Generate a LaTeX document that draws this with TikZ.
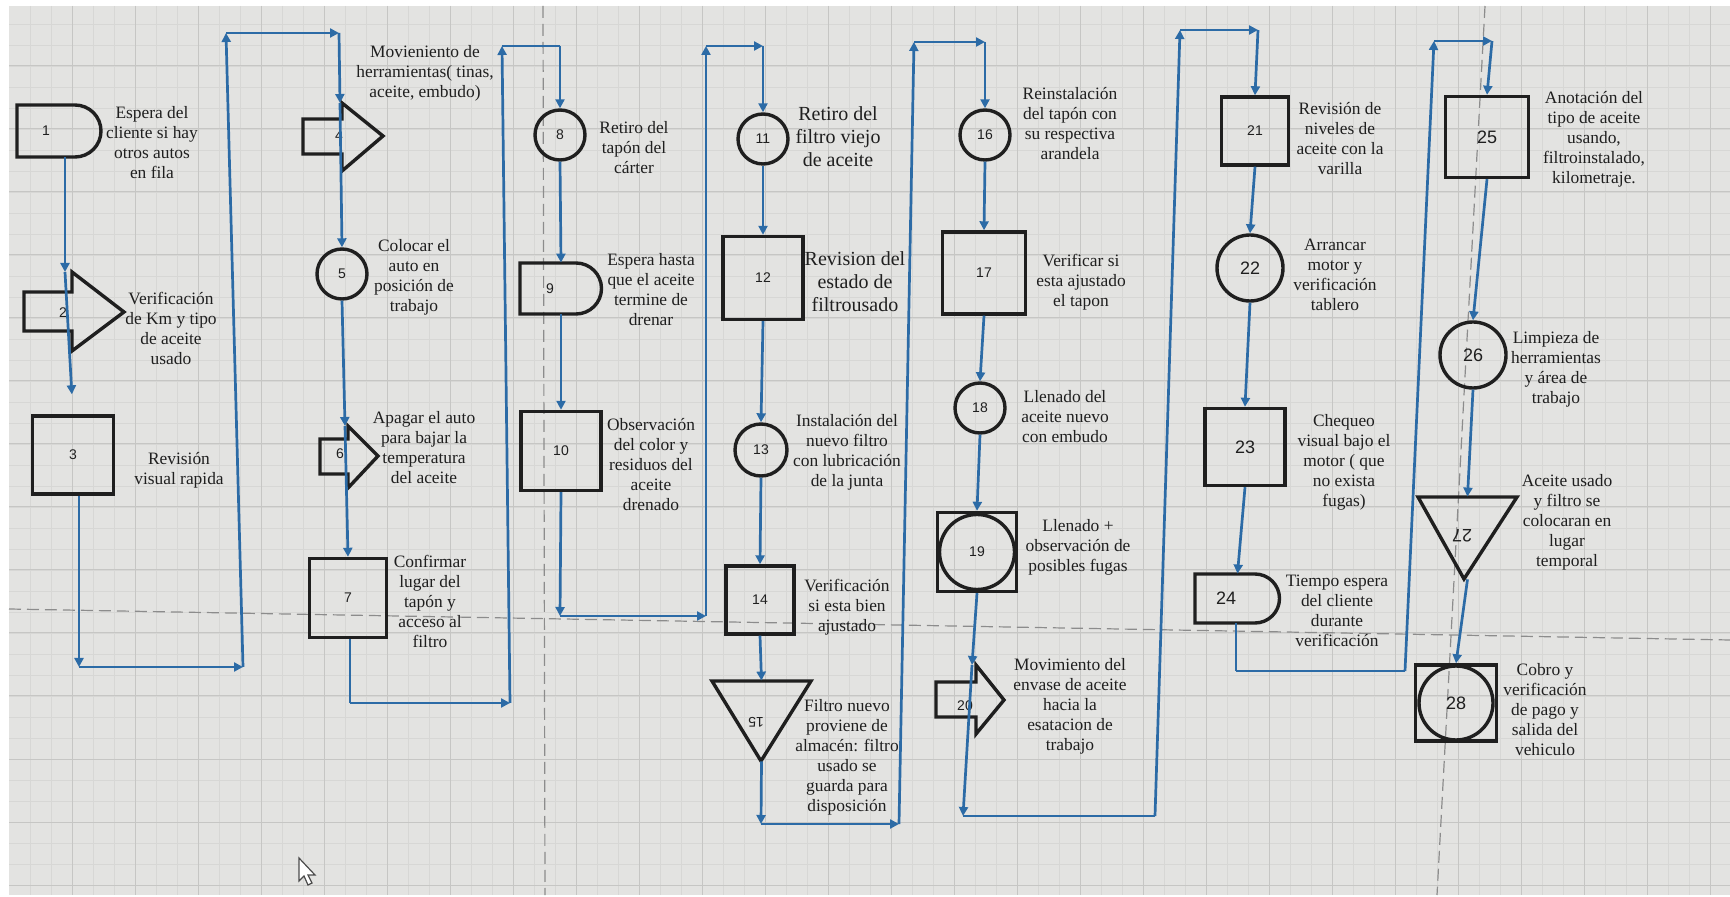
\documentclass[tikz,border=0pt]{standalone}
\usepackage{fontspec}
\setmainfont{Liberation Serif}
\newfontfamily\numfont{Liberation Sans}
\usetikzlibrary{arrows.meta,calc}
\definecolor{ink}{HTML}{1F1F1F}
\definecolor{flowc}{HTML}{2C6BA6}
\definecolor{bgc}{HTML}{E3E3E1}
\definecolor{gmin}{HTML}{D7D7D5}
\definecolor{gmaj}{HTML}{C6C6C4}
\definecolor{dashc}{HTML}{8C8C8C}
\begin{document}
\begin{tikzpicture}[x=0.5pt,y=-0.5pt,
  shp/.style={draw=ink,line width=1.7pt},
  num/.style={font=\numfont\fontsize{7}{8}\selectfont,text=ink,inner sep=0pt},
  bignum/.style={font=\numfont\fontsize{9}{10}\selectfont,text=ink,inner sep=0pt},
  box/.style={shp,rectangle,inner sep=0pt,num},
  bigbox/.style={shp,rectangle,inner sep=0pt,bignum},
  circ/.style={shp,circle,inner sep=0pt,num},
  bigcirc/.style={shp,circle,inner sep=0pt,bignum},
  hid/.style={rectangle,inner sep=0pt},
  lbl/.style={align=center,font=\fontsize{8.7}{10}\selectfont,text=ink,inner sep=0pt},
  biglbl/.style={align=center,font=\fontsize{10}{11.5}\selectfont,text=ink,inner sep=0pt},
  flow/.style={draw=flowc,line width=1.35pt,-{Triangle[length=4.5pt,width=4.5pt]}},
  seg/.style={draw=flowc,line width=1.35pt}]
\useasboundingbox (0,0) rectangle (1730,897);
% background and grid
\fill[white] (0,0) rectangle (1730,897);
\fill[bgc] (9,6) rectangle (1730,895);
\foreach \x in {30,51,...,1730} \draw[gmin,line width=0.35pt] (\x,6) -- (\x,895);
\foreach \y in {24,45,...,895} \draw[gmin,line width=0.35pt] (9,\y) -- (1730,\y);
\foreach \x in {72,135,...,1730} \draw[gmaj,line width=0.5pt] (\x,6) -- (\x,895);
\foreach \y in {66,129,...,895} \draw[gmaj,line width=0.5pt] (9,\y) -- (1730,\y);
\draw[dashc,line width=0.6pt,dash pattern=on 6pt off 3pt] (543,6) -- (545,895);
\draw[dashc,line width=0.6pt,dash pattern=on 6pt off 3pt] (1485,6) -- (1437,895);
\draw[dashc,line width=0.6pt,dash pattern=on 6pt off 3pt] (9,609) -- (1730,640);

% ---------- column A ----------
\draw[shp] (17,105) -- (75,105) arc[start angle=-90,end angle=90,radius=26] -- (17,157) -- cycle;
\node[hid,minimum width=42pt,minimum height=26pt] (n1) at (59,131) {};
\node[num] at (46,131) {1};
\draw[shp] (24,292) -- (72,292) -- (72,272) -- (124,312) -- (72,351) -- (72,331) -- (24,331) -- cycle;
\coordinate (n2t) at (65,272);
\node[num] (n2) at (63,313) {2};
\node[box,minimum width=40.5pt,minimum height=39pt] (n3) at (73,455) {3};

% ---------- column B ----------
\draw[shp] (303,119) -- (342,119) -- (342,103) -- (383,136) -- (342,171) -- (342,154) -- (303,154) -- cycle;
\coordinate (n4t) at (340,103);
\node[num] (n4) at (339,136) {4};
\node[circ,minimum size=25pt] (n5) at (342,274) {5};
\draw[shp] (320,439) -- (348,439) -- (348,426) -- (378,456) -- (348,488) -- (348,474) -- (320,474) -- cycle;
\coordinate (n6t) at (345,426);
\node[num] (n6) at (340,454) {6};
\node[box,minimum width=38.5pt,minimum height=39.5pt] (n7) at (348,598) {7};

% ---------- column C ----------
\node[circ,minimum size=25pt] (n8) at (560,135) {8};
\draw[shp] (520,263) -- (576,263) arc[start angle=-90,end angle=90,radius=25.5] -- (520,314) -- cycle;
\node[hid,minimum width=41pt,minimum height=25.5pt] (n9) at (561,288.5) {};
\node[num] at (550,289) {9};
\node[box,minimum width=40pt,minimum height=39.5pt] (n10) at (561,451) {10};

% ---------- column D ----------
\node[circ,minimum size=25pt] (n11) at (763,139) {11};
\node[box,minimum width=40pt,minimum height=41.5pt] (n12) at (763,278) {12};
\node[circ,minimum size=26pt] (n13) at (761,450) {13};
\node[box,minimum width=34pt,minimum height=34pt] (n14) at (760,600) {14};
\draw[shp] (712,681) -- (811,681) -- (761,761) -- cycle;
\node[hid,minimum width=49.5pt,minimum height=40pt] (n15) at (761.5,721) {};
\node[num,rotate=180] at (756,722) {15};

% ---------- column E ----------
\node[circ,minimum size=25pt] (n16) at (985,135) {16};
\node[box,minimum width=41.5pt,minimum height=41pt] (n17) at (984,273) {17};
\node[circ,minimum size=25pt] (n18) at (980,408) {18};
\node[box,minimum width=39.5pt,minimum height=39.5pt] (n19) at (977,552) {19};
\draw[shp] (977,552) circle[radius=37.5];
\draw[shp] (936,682) -- (976,682) -- (976,665) -- (1004,700) -- (976,734) -- (976,717) -- (936,717) -- cycle;
\coordinate (n20t) at (972,665);
\node[num] (n20) at (965,706) {20};

% ---------- column F ----------
\node[box,minimum width=33.5pt,minimum height=34pt] (n21) at (1255,131) {21};
\node[bigcirc,minimum size=33pt] (n22) at (1250,268) {22};
\node[bigbox,minimum width=40pt,minimum height=38.5pt] (n23) at (1245,447) {23};
\draw[shp] (1195,574) -- (1255,574) arc[start angle=-90,end angle=90,radius=24.5] -- (1195,623) -- cycle;
\node[hid,minimum width=42.5pt,minimum height=24.5pt] (n24) at (1237.5,598.5) {};
\node[bignum] at (1226,598) {24};

% ---------- column G ----------
\node[bigbox,minimum width=41.5pt,minimum height=40.5pt] (n25) at (1487,137) {25};
\node[bigcirc,minimum size=33pt] (n26) at (1473,355) {26};
\draw[shp] (1418,497) -- (1517,497) -- (1464,579) -- cycle;
\node[hid,minimum width=49.5pt,minimum height=41pt] (n27) at (1467.5,538) {};
\node[bignum,rotate=180] at (1462,536) {27};
\node[bigbox,minimum width=40.5pt,minimum height=38pt] (n28) at (1456,703) {28};
\draw[shp] (1456,703) circle[radius=37];

% ---------- labels ----------
\node[lbl] (l1) at (152,143) {Espera del\\cliente si hay\\otros autos\\en fila};
\node[lbl] (l2) at (171,328) {Verificación\\de Km y tipo\\de aceite\\usado};
\node[lbl] (l3) at (179,470) {Revisión\\visual rapida};
\node[lbl] (l4) at (425,73) {Movieniento de\\herramientas( tinas,\\aceite, embudo)};
\node[lbl] (l5) at (414,277) {Colocar el\\auto en\\posición de\\trabajo};
\node[lbl] (l6) at (424,448) {Apagar el auto\\para bajar la\\temperatura\\del aceite};
\node[lbl] (l7) at (430,601) {Confirmar\\lugar del\\tapón y\\acceso al\\filtro};
\node[lbl] (l8) at (634,148) {Retiro del\\tapón del\\cárter};
\node[lbl] (l9) at (651,290) {Espera hasta\\que el aceite\\termine de\\drenar};
\node[lbl] (l10) at (651,465) {Observación\\del color y\\residuos del\\aceite\\drenado};
\node[biglbl] (l11) at (838,137) {Retiro del\\filtro viejo\\de aceite};
\node[biglbl] (l12) at (855,282) {Revision del\\estado de\\filtrousado};
\node[lbl] (l13) at (847,452) {Instalación del\\nuevo filtro\\con lubricación\\de la junta};
\node[lbl] (l14) at (847,607) {Verificación\\si esta bien\\ajustado};
\node[lbl] (l15) at (847,757) {Filtro nuevo\\proviene de\\almacén: filtro\\usado se\\guarda para\\disposición};
\node[lbl] (l16) at (1070,124) {Reinstalación\\del tapón con\\su respectiva\\arandela};
\node[lbl] (l17) at (1081,282) {Verificar si\\esta ajustado\\el tapon};
\node[lbl] (l18) at (1065,417) {Llenado del\\aceite nuevo\\con embudo};
\node[lbl] (l19) at (1078,547) {Llenado +\\observación de\\posibles fugas};
\node[lbl] (l20) at (1070,706) {Movimiento del\\envase de aceite\\hacia la\\esatacion de\\trabajo};
\node[lbl] (l21) at (1340,139) {Revisión de\\niveles de\\aceite con la\\varilla};
\node[lbl] (l22) at (1335,275) {Arrancar\\motor y\\verificación\\tablero};
\node[lbl] (l23) at (1344,462) {Chequeo\\visual bajo el\\motor ( que\\no exista\\fugas)};
\node[lbl] (l24) at (1337,611) {Tiempo espera\\del cliente\\durante\\verificación};
\node[lbl] (l25) at (1594,139) {Anotación del\\tipo de aceite\\usando,\\filtroinstalado,\\kilometraje.};
\node[lbl] (l26) at (1556,369) {Limpieza de\\herramientas\\y área de\\trabajo};
\node[lbl] (l27) at (1567,522) {Aceite usado\\y filtro se\\colocaran en\\lugar\\temporal};
\node[lbl] (l28) at (1545,710) {Cobro y\\verificación\\de pago y\\salida del\\vehiculo};

% ---------- loop corner coordinates ----------
\coordinate (a1) at (79,667);  \coordinate (a2) at (243,667);
\coordinate (a3) at (226,33);  \coordinate (a4) at (339,33);
\coordinate (b1) at (350,703); \coordinate (b2) at (510,703);
\coordinate (b3) at (502,46);  \coordinate (b4) at (560,46);
\coordinate (c1) at (560,616); \coordinate (c2) at (706,616);
\coordinate (c3) at (706,46);  \coordinate (c4) at (763,46);
\coordinate (d1) at (761,824); \coordinate (d2) at (899,824);
\coordinate (d3) at (914,42);  \coordinate (d4) at (985,42);
\coordinate (e1) at (963,816); \coordinate (e2) at (1155,816);
\coordinate (e3) at (1180,30); \coordinate (e4) at (1258,30);
\coordinate (f1) at (1236,671); \coordinate (f2) at (1405,671);
\coordinate (f3) at (1434,41); \coordinate (f4) at (1492,41);

% ---------- connectors ----------
\draw[flow] (n1.south -| n2t) -- (n2t);
\draw[flow,shorten >=10pt] (n2t) -- (n3.north);
\draw[flow] (n3.south -| a1) -- (a1);
\draw[flow] (a1) -- (a2);
\draw[flow] (a2) -- (a3);
\draw[flow] (a3) -- (a4);
\draw[flow] (a4) -- (n4t);
\draw[flow] (n4t) -- (n5.north);
\draw[flow] (n5.south) -- (n6t);
\draw[flow] (n6t) -- (n7.north);
\draw[seg] (n7.south -| b1) -- (b1);
\draw[flow] (b1) -- (b2);
\draw[flow] (b2) -- (b3);
\draw[seg] (b3) -- (b4);
\draw[flow] (b4) -- (n8.north);
\draw[flow] (n8.south) -- (n9.north);
\draw[flow] (n9.south) -- (n10.north);
\draw[flow] (n10.south) -- (c1);
\draw[flow] (c1) -- (c2);
\draw[flow] (c2) -- (c3);
\draw[flow] (c3) -- (c4);
\draw[flow] (c4) -- (n11.north);
\draw[flow] (n11.south) -- (n12.north);
\draw[flow] (n12.south) -- (n13.north);
\draw[flow] (n13.south) -- (n14.north);
\draw[flow] (n14.south) -- (n15.north);
\draw[flow] (n15.south) -- (d1);
\draw[flow] (d1) -- (d2);
\draw[flow] (d2) -- (d3);
\draw[flow] (d3) -- (d4);
\draw[flow] (d4) -- (n16.north);
\draw[flow] (n16.south) -- (n17.north);
\draw[flow] (n17.south) -- (n18.north);
\draw[flow] (n18.south) -- (n19.north);
\draw[flow] (n19.south) -- (n20t);
\draw[flow] (n20t) -- (e1);
\draw[seg] (e1) -- (e2);
\draw[flow] (e2) -- (e3);
\draw[flow] (e3) -- (e4);
\draw[flow] (e4) -- (n21.north);
\draw[flow] (n21.south) -- (n22.north);
\draw[flow] (n22.south) -- (n23.north);
\draw[flow] (n23.south) -- (n24.north);
\draw[seg] (n24.south -| f1) -- (f1);
\draw[seg] (f1) -- (f2);
\draw[flow] (f2) -- (f3);
\draw[flow] (f3) -- (f4);
\draw[flow] (f4) -- (n25.north);
\draw[flow] (n25.south) -- (n26.north);
\draw[flow] (n26.south) -- (n27.north);
\draw[flow] (n27.south) -- (n28.north);

% mouse pointer
\draw[black!70,fill=white,line width=0.6pt] (299,858) -- (299,881) -- (304,876) -- (308,885) -- (312,883) -- (308,875) -- (315,875) -- cycle;
\end{tikzpicture}
\end{document}
